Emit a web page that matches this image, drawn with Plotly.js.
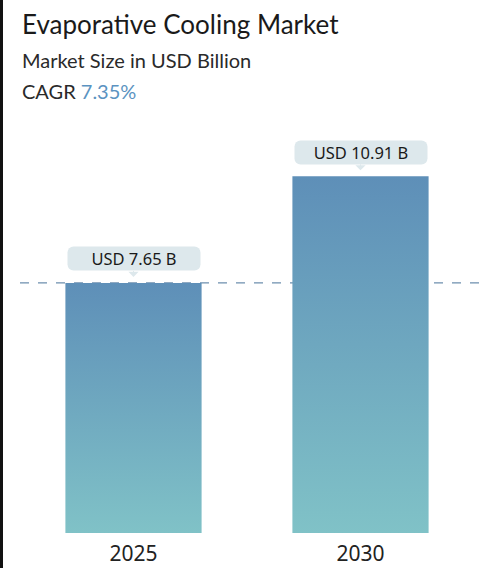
<!DOCTYPE html>
<html>
<head>
<meta charset="utf-8">
<script src="https://cdn.plot.ly/plotly-3.0.1.min.js"></script>
<style>
  html, body { margin: 0; padding: 0; background: #fff; }
  #wrap { position: relative; width: 486px; height: 568px; }
  #edge { position: absolute; left: 0; top: 0; width: 3px; height: 568px; background: #111; z-index: 5; }
  #chart { width: 486px; height: 568px; }
</style>
</head>
<body>
<div id="wrap">
  <div id="edge"></div>
  <div id="chart"></div>
</div>
<script>
// chart data
var years = ['2025', '2030'];
var sizes = [7.65, 10.91];
var labels = ['USD 7.65 B', 'USD 10.91 B'];
var cagr = '7.35%';

var data = [{
  type: 'bar',
  x: years,
  y: sizes,
  width: 0.6,
  marker: {color: '#6fa6c0'},
  hoverinfo: 'none'
}];

var annotations = [
  {xref: 'paper', yref: 'paper', x: 0, y: 1.198, xanchor: 'left', yanchor: 'middle', showarrow: false,
   text: 'Evaporative Cooling Market', font: {family: 'Lato', size: 26, color: '#1a1a1a'}},
  {xref: 'paper', yref: 'paper', x: 0, y: 1.113, xanchor: 'left', yanchor: 'middle', showarrow: false,
   text: 'Market Size in USD Billion', font: {family: 'Lato', size: 20, color: '#2a2a2a'}},
  {xref: 'paper', yref: 'paper', x: 0, y: 1.04, xanchor: 'left', yanchor: 'middle', showarrow: false,
   text: 'CAGR <span style="color:#5b93c1">' + cagr + '</span>', font: {family: 'Lato', size: 20, color: '#2a2a2a'}}
];

// value labels: category axis, so use the category index
// the small arrow head plays the pointer under each box
years.forEach(function (yr, i) {
  annotations.push({
    x: i, y: sizes[i], xref: 'x', yref: 'y',
    showarrow: true, ax: 0, ay: -24, standoff: 6,
    arrowhead: 1, arrowsize: 1.7, arrowwidth: 1, arrowcolor: '#dde8ec',
    text: labels[i], width: 128, height: 19,
    bgcolor: '#dde8ec', borderpad: 2,
    font: {family: 'Noto Sans', size: 16.5, color: '#1a1a1a'}
  });
});

var layout = {
  width: 486,
  height: 568,
  margin: {l: 20, r: 12, t: 108, b: 35},
  paper_bgcolor: '#fff',
  plot_bgcolor: '#fff',
  showlegend: false,
  bargap: 0.4,
  xaxis: {
    type: 'category',
    range: [-0.5, 1.5],
    showgrid: false,
    zeroline: false,
    showline: false,
    ticks: '',
    ticklabelstandoff: 6,
    tickfont: {family: 'Noto Sans', size: 21, color: '#222'}
  },
  yaxis: {
    range: [0, 13],
    visible: false,
    showgrid: false,
    zeroline: false
  },
  shapes: [{
    type: 'line', xref: 'paper', yref: 'y',
    x0: 0, x1: 1.03, y0: sizes[0], y1: sizes[0],
    line: {color: '#6d8fae', width: 1.3, dash: 'dash'},
    layer: 'below'
  }],
  annotations: annotations
};

Plotly.newPlot('chart', data, layout, {displayModeBar: false, staticPlot: true}).then(function (gd) {
  // vertical gradient on the bars and rounded label boxes
  var svg = gd.querySelector('.main-svg');
  var ns = 'http://www.w3.org/2000/svg';
  var defs = svg.querySelector('defs') || svg.insertBefore(document.createElementNS(ns, 'defs'), svg.firstChild);
  var grad = document.createElementNS(ns, 'linearGradient');
  grad.setAttribute('id', 'barGrad');
  grad.setAttribute('x1', '0'); grad.setAttribute('y1', '0');
  grad.setAttribute('x2', '0'); grad.setAttribute('y2', '1');
  [['0', '#5e8fb8'], ['1', '#80c2c7']].forEach(function (s) {
    var st = document.createElementNS(ns, 'stop');
    st.setAttribute('offset', s[0]);
    st.setAttribute('stop-color', s[1]);
    grad.appendChild(st);
  });
  defs.appendChild(grad);
  gd.querySelectorAll('.bars .point path').forEach(function (p) {
    p.style.fill = 'url(#barGrad)';
  });
  gd.querySelectorAll('.annotation-text-g rect.bg').forEach(function (r) {
    r.setAttribute('rx', 6);
    r.setAttribute('ry', 6);
  });
});
</script>
</body>
</html>
